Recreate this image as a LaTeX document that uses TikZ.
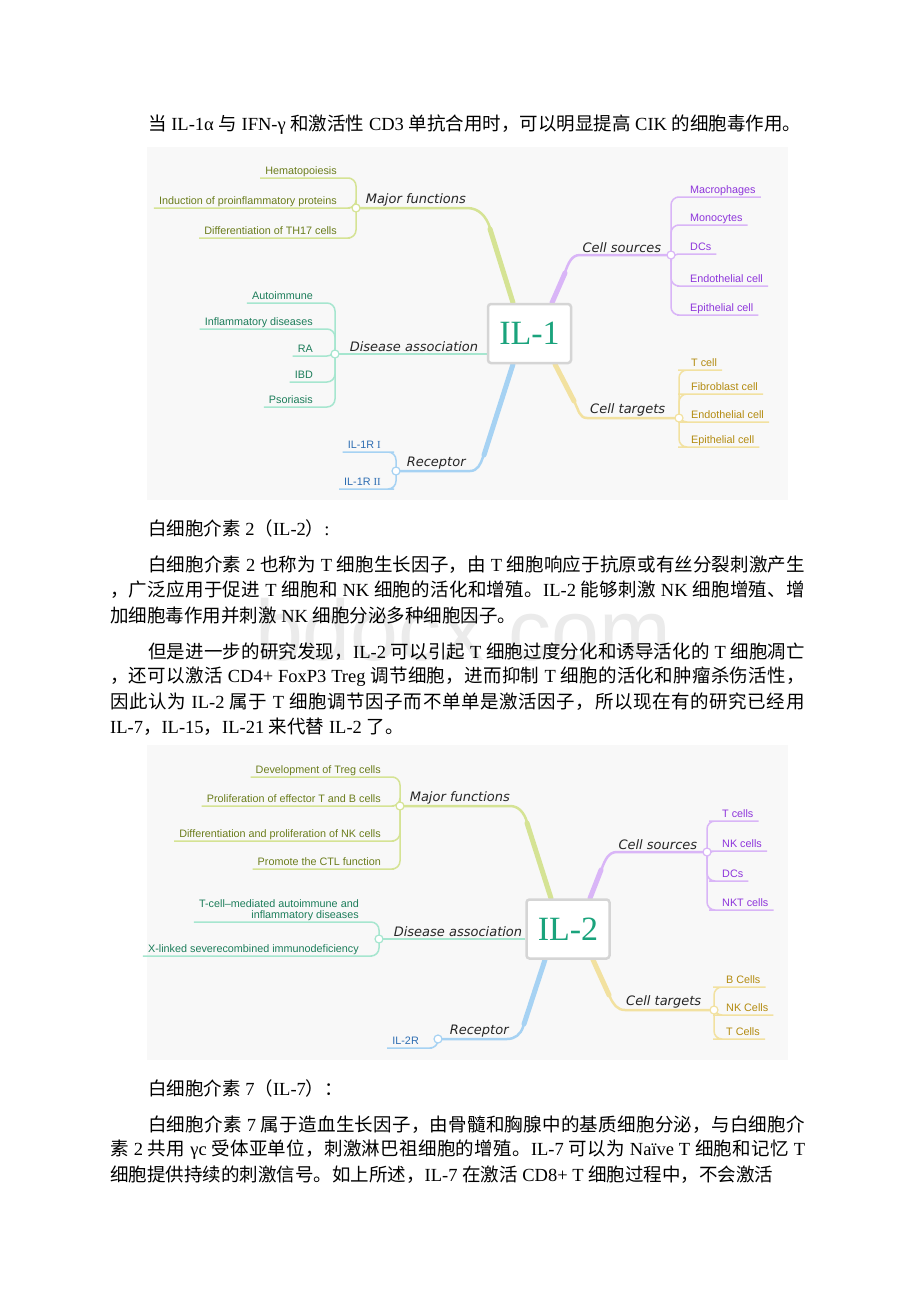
\documentclass[tikz,border=0pt]{standalone}
\usepackage{fontspec}
\setmainfont{Liberation Serif}
\newfontfamily\cjk{Noto Sans CJK SC}
\newfontfamily\mapsans{Liberation Sans}
\newfontfamily\hand{DejaVu Sans}
\pgfdeclarelayer{bottom}
\pgfdeclarelayer{background}
\pgfsetlayers{bottom,background,main}

\definecolor{bgcol}{HTML}{F8F8F8}
\definecolor{boxcol}{HTML}{D5D5D5}
\definecolor{corecol}{HTML}{1AA37C}
\definecolor{mfcol}{HTML}{D5E394}
\definecolor{mftext}{HTML}{6B7D1C}
\definecolor{cscol}{HTML}{D9B5F7}
\definecolor{cstext}{HTML}{8E35DB}
\definecolor{dacol}{HTML}{A6E6CF}
\definecolor{datext}{HTML}{1C7D5A}
\definecolor{rccol}{HTML}{A6D2F3}
\definecolor{rctext}{HTML}{2D6DB2}
\definecolor{ctcol}{HTML}{F2E1A0}
\definecolor{cttext}{HTML}{B38B10}
\definecolor{wmark}{HTML}{EBEBEB}

% chinese runs, with a little stretch between characters
\def\zhend{zhend}
\def\zhloop#1{\ifx\zhend#1\else#1\hskip0pt plus 3pt\relax\expandafter\zhloop\fi}
\newcommand\zh[1]{{\cjk\zhloop#1\zhend}}
\newcommand\fullA[1]{\makebox[657pt][s]{#1}}
\newcommand\fullB[1]{\makebox[695pt][s]{#1}}

\begin{document}
\begin{tikzpicture}
  [x=1pt,y=1pt,
   txt/.style={anchor=west,inner sep=0pt,font=\fontsize{18.5}{22}\selectfont},
   core/.style={draw=boxcol,line width=2.5pt,fill=white,rounded corners=3pt,
     minimum width=83pt,minimum height=59pt,text=corecol,font=\fontsize{34}{34}\selectfont},
   hub/.style={circle,draw=#1,fill=white,line width=1.2pt,inner sep=0pt,minimum size=8pt},
   blab/.style={inner sep=1pt,text=black!85,font=\hand\itshape\fontsize{13}{13}\selectfont},
   leaf/.style={inner xsep=5pt,inner ysep=1pt,text height=8pt,text depth=2.5pt,
     text=#1,font=\mapsans\fontsize{10.8}{11}\selectfont},
   twig/.style={draw=#1,line width=1.5pt,rounded corners=8pt},
   limb/.style={draw=#1,line width=2.5pt}]

  \begin{pgfonlayer}{bottom}
    \fill[white] (0,0) rectangle (920,-1302);
    \fill[bgcol] (147,-147) rectangle (788,-500);
    \fill[bgcol] (147,-745) rectangle (788,-1060);
    \node[text=wmark,font=\mapsans\fontsize{86}{86}\selectfont] (wm) at (463,-630) {bdocx.com};
  \end{pgfonlayer}
  \useasboundingbox (0,0) rectangle (920,-1302);

  % page text
  \node[txt] (l0) at (148,-125) {\zh{当} IL-1α \zh{与} IFN-γ \zh{和激活性} CD3 \zh{单抗合用时，可以明显提高} CIK \zh{的细胞毒作用。}};
  \node[txt] (h2) at (148,-528) {\zh{白细胞介素} 2\zh{（}IL-2\zh{）}:};
  \node[txt] (p1a) at (148,-565) {\fullA{\zh{白细胞介素} 2 \zh{也称为} T \zh{细胞生长因子，由} T \zh{细胞响应于抗原或有丝分裂刺激产生}}};
  \node[txt] (p1b) at (110,-590) {\fullB{\zh{，广泛应用于促进} T \zh{细胞和} NK \zh{细胞的活化和增殖。}IL-2 \zh{能够刺激} NK \zh{细胞增殖、增}}};
  \node[txt] (p1c) at (110,-615) {\zh{加细胞毒作用并刺激} NK \zh{细胞分泌多种细胞因子。}};
  \node[txt] (p2a) at (148,-652) {\fullA{\zh{但是进一步的研究发现，}IL-2 \zh{可以引起} T \zh{细胞过度分化和诱导活化的} T \zh{细胞凋亡}}};
  \node[txt] (p2b) at (110,-677) {\fullB{\zh{，还可以激活} CD4+ FoxP3 Treg \zh{调节细胞，进而抑制} T \zh{细胞的活化和肿瘤杀伤活性，}}};
  \node[txt] (p2c) at (110,-702) {\fullB{\zh{因此认为} IL-2 \zh{属于} T \zh{细胞调节因子而不单单是激活因子，所以现在有的研究已经用}}};
  \node[txt] (p2d) at (110,-727) {IL-7\zh{，}IL-15\zh{，}IL-21 \zh{来代替} IL-2 \zh{了。}};
  \node[txt] (h3) at (148,-1088) {\zh{白细胞介素} 7\zh{（}IL-7\zh{）：}};
  \node[txt] (p3a) at (148,-1125) {\fullA{\zh{白细胞介素} 7 \zh{属于造血生长因子，由骨髓和胸腺中的基质细胞分泌，与白细胞介}}};
  \node[txt] (p3b) at (110,-1150) {\fullB{\zh{素} 2 \zh{共用} γc \zh{受体亚单位，刺激淋巴祖细胞的增殖。}IL-7 \zh{可以为} Naïve T \zh{细胞和记忆} T}};
  \node[txt] (p3c) at (110,-1175) {\zh{细胞提供持续的刺激信号。如上所述，}IL-7 \zh{在激活} CD8+ T \zh{细胞过程中，不会激活}};

  % IL-1 map
  \node[core] (il1) at (529.5,-333.5) {IL-1};
  \node[hub=mfcol] (mf1) at (356,-208) {};
  \node[hub=cscol] (cs1) at (671,-255) {};
  \node[hub=dacol] (da1) at (335,-354) {};
  \node[hub=rccol] (rc1) at (396,-471) {};
  \node[hub=ctcol] (ct1) at (679,-418) {};
  \node[blab,anchor=south west] (mf1l) at ([xshift=4pt,yshift=1pt]mf1.east) {Major functions};
  \node[blab,anchor=south east] (cs1l) at ([xshift=-4pt,yshift=1pt]cs1.west) {Cell sources};
  \node[blab,anchor=south west] (da1l) at ([xshift=9pt,yshift=1pt]da1.east) {Disease association};
  \node[blab,anchor=south west] (rc1l) at ([xshift=5pt,yshift=1pt]rc1.east) {Receptor};
  \node[blab,anchor=south east] (ct1l) at ([xshift=-8pt,yshift=1pt]ct1.west) {Cell targets};
  \foreach \nm/\yy/\lbl in {mfa/178/Hematopoiesis, mfb/208/Induction of proinflammatory proteins,
      mfc/238/Differentiation of TH17 cells}
    \node[leaf=mftext,anchor=south east] (\nm) at (342,-\yy) {\lbl};
  \foreach \nm/\yy/\lbl in {csa/197/Macrophages, csb/225/Monocytes, csc/254/DCs,
      csd/286/Endothelial cell, cse/315/Epithelial cell}
    \node[leaf=cstext,anchor=south west] (\nm) at (685,-\yy) {\lbl};
  \foreach \nm/\yy/\lbl in {daa/303/Autoimmune, dab/329/Inflammatory diseases, dac/356/RA,
      dad/382/IBD, dae/407/Psoriasis}
    \node[leaf=datext,anchor=south east] (\nm) at (318,-\yy) {\lbl};
  \foreach \nm/\yy/\lbl in {rca/452/IL-1R {\rmfamily I}, rcb/489/IL-1R {\rmfamily II}}
    \node[leaf=rctext,anchor=south east] (\nm) at (386,-\yy) {\lbl};
  \foreach \nm/\yy/\lbl in {cta/370/T cell, ctb/394/Fibroblast cell, ctc/422/Endothelial cell,
      ctd/447/Epithelial cell}
    \node[leaf=cttext,anchor=south west] (\nm) at (686,-\yy) {\lbl};

  % IL-2 map
  \node[core] (il2) at (568,-929) {IL-2};
  \node[hub=mfcol] (mf2) at (400,-806) {};
  \node[hub=cscol] (cs2) at (707,-852) {};
  \node[hub=dacol] (da2) at (379,-939) {};
  \node[hub=rccol] (rc2) at (438,-1039) {};
  \node[hub=ctcol] (ct2) at (714,-1010) {};
  \node[blab,anchor=south west] (mf2l) at ([xshift=4pt,yshift=1pt]mf2.east) {Major functions};
  \node[blab,anchor=south east] (cs2l) at ([xshift=-4pt,yshift=1pt]cs2.west) {Cell sources};
  \node[blab,anchor=south west] (da2l) at ([xshift=9pt,yshift=1pt]da2.east) {Disease association};
  \node[blab,anchor=south west] (rc2l) at ([xshift=6pt,yshift=1pt]rc2.east) {Receptor};
  \node[blab,anchor=south east] (ct2l) at ([xshift=-7pt,yshift=1pt]ct2.west) {Cell targets};
  \foreach \nm/\yy/\lbl in {mga/777/Development of Treg cells,
      mgb/806/Proliferation of effector T and B cells,
      mgc/841/Differentiation and proliferation of NK cells, mgd/869/Promote the CTL function}
    \node[leaf=mftext,anchor=south east] (\nm) at (386,-\yy) {\lbl};
  \foreach \nm/\yy/\lbl in {csf/821/T cells, csg/851/NK cells, csh/881/DCs, csi/910/NKT cells}
    \node[leaf=cstext,anchor=south west] (\nm) at (717,-\yy) {\lbl};
  \node[leaf=datext,anchor=south east] (daf) at (364,-922)
    {\renewcommand\arraystretch{0.85}\begin{tabular}[b]{@{}r@{}}T-cell–mediated autoimmune and\\inflammatory diseases\end{tabular}};
  \node[leaf=datext,anchor=south east] (dag) at (364,-956) {X-linked severecombined immunodeficiency};
  \node[leaf=rctext,anchor=south east] (rcc) at (424,-1048) {IL-2R};
  \foreach \nm/\yy/\lbl in {cte/987/B Cells, ctf/1015/NK Cells, ctg/1039/T Cells}
    \node[leaf=cttext,anchor=south west] (\nm) at (721,-\yy) {\lbl};

  \begin{pgfonlayer}{background}
    % IL-1 branches
    \draw[limb=mfcol] ([xshift=-16.5pt]il1.north) -- (490,-228) to[out=107,in=0] (467,-208) -- (mf1.center);
    \draw[limb=mfcol,line width=5pt,line cap=round] ([xshift=-16.5pt]il1.north) -- (490,-229);
    \draw[limb=cscol] ([xshift=22.5pt]il1.north) -- (565,-272) to[out=68,in=180] (580,-255) -- (cs1.center);
    \draw[limb=cscol,line width=5pt,line cap=round] ([xshift=22.5pt]il1.north) -- (565,-273);
    \draw[limb=dacol,line width=2pt] ([yshift=-20.5pt]il1.west) -- (da1.center);
    \draw[limb=rccol] ([xshift=-16.5pt]il1.south) -- (483,-457) to[out=-108,in=0] (470,-471) -- (rc1.center);
    \draw[limb=rccol,line width=5pt,line cap=round] ([xshift=-16.5pt]il1.south) -- (484,-455);
    \draw[limb=ctcol] ([xshift=25.5pt]il1.south) -- (575,-403) to[out=-63,in=180] (587,-418) -- (ct1.center);
    \draw[limb=ctcol,line width=5pt,line cap=round] ([xshift=25.5pt]il1.south) -- (574,-401);
    \foreach \nm in {mfa,mfb,mfc}
      \draw[twig=mfcol] (mf1.center) |- (\nm.south east) -- (\nm.south west);
    \foreach \nm in {csa,csb,csc,csd,cse}
      \draw[twig=cscol] (cs1.center) |- (\nm.south west) -- (\nm.south east);
    \foreach \nm in {daa,dab,dac,dad,dae}
      \draw[twig=dacol] (da1.center) |- (\nm.south east) -- (\nm.south west);
    \foreach \nm in {rca,rcb}
      \draw[twig=rccol] (rc1.center) |- (\nm.south east) -- (\nm.south west);
    \foreach \nm in {cta,ctb,ctc,ctd}
      \draw[twig=ctcol] (ct1.center) |- (\nm.south west) -- (\nm.south east);

    % IL-2 branches
    \draw[limb=mfcol] ([xshift=-17pt]il2.north) -- (527,-822) to[out=107,in=0] (510,-806) -- (mf2.center);
    \draw[limb=mfcol,line width=5pt,line cap=round] ([xshift=-17pt]il2.north) -- (527,-823);
    \draw[limb=cscol] ([xshift=22pt]il2.north) -- (602,-868) to[out=69,in=180] (617,-852) -- (cs2.center);
    \draw[limb=cscol,line width=5pt,line cap=round] ([xshift=22pt]il2.north) -- (601,-870);
    \draw[limb=dacol,line width=2pt] ([yshift=-10pt]il2.west) -- (da2.center);
    \draw[limb=rccol] ([xshift=-23pt]il2.south) -- (523,-1027) to[out=-108,in=0] (507,-1039) -- (rc2.center);
    \draw[limb=rccol,line width=5pt,line cap=round] ([xshift=-23pt]il2.south) -- (524,-1024);
    \draw[limb=ctcol] ([xshift=25pt]il2.south) -- (610,-997) to[out=-66,in=180] (625,-1010) -- (ct2.center);
    \draw[limb=ctcol,line width=5pt,line cap=round] ([xshift=25pt]il2.south) -- (609,-995);
    \foreach \nm in {mga,mgb,mgc,mgd}
      \draw[twig=mfcol] (mf2.center) |- (\nm.south east) -- (\nm.south west);
    \foreach \nm in {csf,csg,csh,csi}
      \draw[twig=cscol] (cs2.center) |- (\nm.south west) -- (\nm.south east);
    \foreach \nm in {daf,dag}
      \draw[twig=dacol] (da2.center) |- (\nm.south east) -- (\nm.south west);
    \draw[twig=rccol] (rc2.center) |- (rcc.south east) -- (rcc.south west);
    \foreach \nm in {cte,ctf,ctg}
      \draw[twig=ctcol] (ct2.center) |- (\nm.south west) -- (\nm.south east);
  \end{pgfonlayer}
\end{tikzpicture}
\end{document}
